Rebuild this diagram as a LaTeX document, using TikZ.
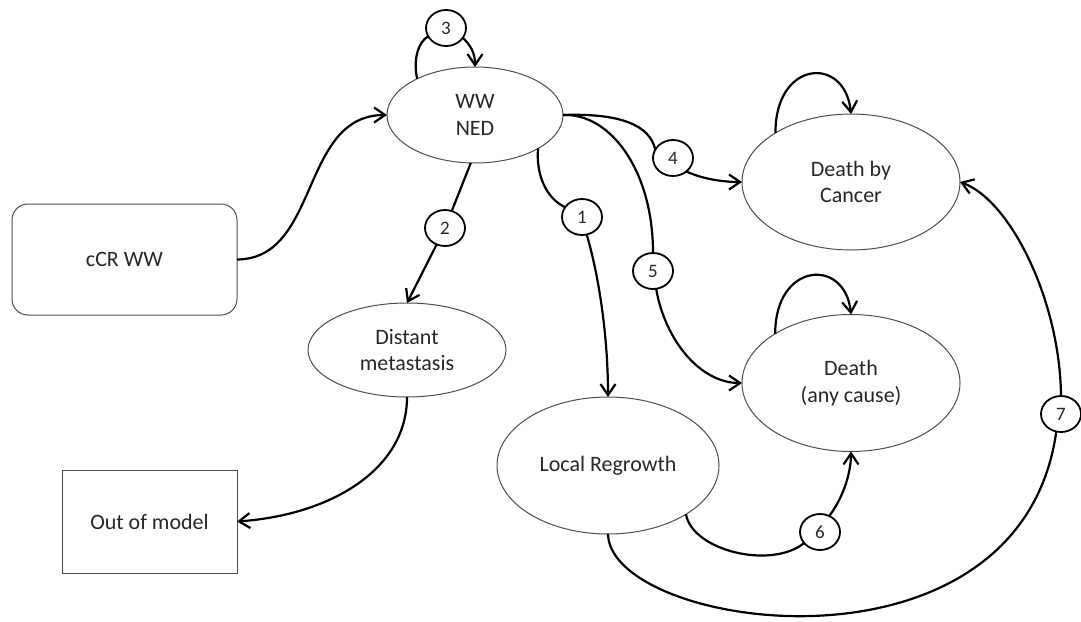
\documentclass[tikz,border=0pt]{standalone}
\usepackage{fontspec}
\setmainfont{Carlito}
\usetikzlibrary{arrows.meta,shapes.geometric}
\begin{document}
\begin{tikzpicture}[x=1pt,y=1pt,
  statefont/.style={font=\fontsize{22}{26.4}\selectfont},
  state/.style={ellipse,draw=black!70,line width=1pt,inner sep=0pt,outer sep=0pt,align=center,statefont,text=black!85},
  boxnode/.style={rectangle,draw=black!70,line width=1pt,inner sep=0pt,outer sep=0pt,align=center,statefont,text=black!85},
  num/.style={ellipse,draw=black,line width=1.8pt,minimum width=40pt,minimum height=36pt,inner sep=0pt,outer sep=0pt,font=\fontsize{19}{21}\selectfont,text=black!85},
  flow/.style={line width=2.2pt},
  arr/.style={flow,-{Straight Barb[length=11pt,width=15pt]}}
]
\useasboundingbox (0,0) rectangle (1081,-621);

% states
\node[state,minimum width=176pt,minimum height=96pt] (ww) at (475,-115) {WW\\NED};
\node[boxnode,rounded corners=16pt,minimum width=225pt,minimum height=111pt] (ccr) at (124.5,-259.5) {cCR WW};
\node[state,minimum width=198pt,minimum height=94pt] (dm) at (407,-350) {Distant\\metastasis};
\node[boxnode,minimum width=175pt,minimum height=103pt] (out) at (149.5,-521.5) {Out of model};
\node[state,minimum width=218pt,minimum height=136pt] (dc) at (851,-182) {Death by\\Cancer};
\node[state,minimum width=218pt,minimum height=137pt] (da) at (851,-383) {Death\\(any cause)};
\node[state,minimum width=222pt,minimum height=137pt] (lr) at (608,-465.5) {Local Regrowth};

% transition numbers
\node[num] (c1) at (582,-217) {1};
\node[num] (c2) at (445,-228) {2};
\node[num] (c3) at (446,-28) {3};
\node[num] (c4) at (673,-158) {4};
\node[num] (c5) at (653,-271) {5};
\node[num] (c6) at (820,-532) {6};
\node[num] (c7) at (1061,-414) {7};

% entry and exit
\draw[arr] (ccr.east) .. controls (320,-259) and (300,-115) .. (ww.west);
\draw[arr] (dm.south) .. controls (407,-470) and (330,-515) .. (out.east);

% 1: local regrowth
\draw[flow] (ww.-28) .. controls (536,-175) and (546,-198) .. (c1.150);
\draw[arr] (c1.-75) .. controls (600,-280) and (608,-340) .. (lr.north);

% 2: distant metastasis
\draw[flow] (ww.265) -- (c2);
\draw[arr] (c2) -- (dm.north);

% 3: remain in WW NED
\draw[flow] (ww.148) .. controls (413,-60) and (418,-42) .. (c3.205);
\draw[arr] (c3.-30) .. controls (470,-45) and (475,-52) .. (ww.north);

% 4: death by cancer
\draw[flow] (ww.east) .. controls (620,-113) and (650,-125) .. (c4.155);
\draw[arr] (c4.-45) .. controls (700,-178) and (720,-182) .. (dc.west);

% 5: death from any cause
\draw[flow] (ww.east) .. controls (610,-113) and (653,-170) .. (c5.north);
\draw[arr] (c5.-80) .. controls (665,-340) and (700,-383) .. (da.west);

% 6: regrowth to death (any cause)
\draw[flow] (lr.-32) .. controls (692,-550) and (770,-570) .. (c6.215);
\draw[arr] (c6.60) .. controls (845,-495) and (851,-470) .. (da.south);

% 7: regrowth to death by cancer
\draw[flow] (lr.south) .. controls (610,-630) and (1020,-690) .. (c7.255);
\draw[arr] (c7.north) .. controls (1060,-300) and (1010,-200) .. (dc.east);

% absorbing states
\draw[arr] (dc.147) .. controls (775,-60) and (845,-55) .. (dc.north);
\draw[arr] (da.147) .. controls (775,-262) and (845,-257) .. (da.north);
\end{tikzpicture}
\end{document}
